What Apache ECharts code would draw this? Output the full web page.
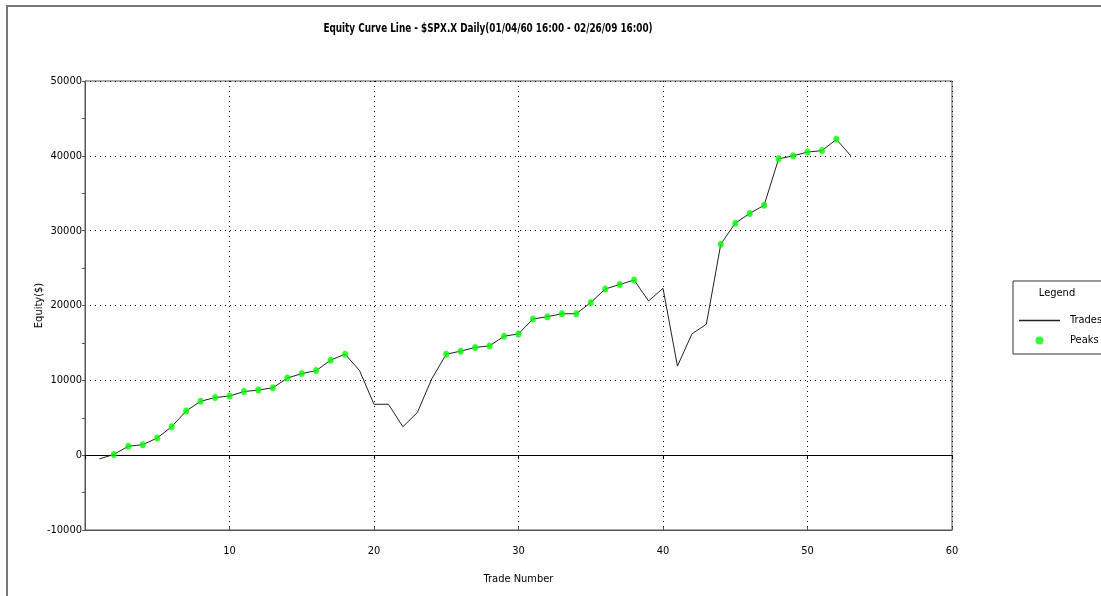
<!DOCTYPE html>
<html>
<head>
<meta charset="utf-8">
<script src="https://cdn.jsdelivr.net/npm/echarts@6/dist/echarts.min.js"></script>
<style>html,body{margin:0;padding:0;background:#fff;}#c{width:1101px;height:596px;}</style>
</head>
<body>
<div id="c"></div>
<script>
const titleText = 'Equity Curve Line - $SPX.X Daily(01/04/60 16:00 - 02/26/09 16:00)';
const tradeNumbers = [1,2,3,4,5,6,7,8,9,10,11,12,13,14,15,16,17,18,19,20,21,22,23,24,25,26,27,28,29,30,31,32,33,34,35,36,37,38,39,40,41,42,43,44,45,46,47,48,49,50,51,52,53];
const equity = [-500,100,1200,1400,2300,3800,5900,7200,7700,7900,8500,8700,9000,10300,10900,11300,12700,13500,11300,6800,6800,3800,5700,10200,13500,13900,14400,14600,15900,16200,18200,18500,18900,18900,20400,22200,22800,23400,20600,22300,11900,16200,17500,28200,31000,32300,33400,39600,40000,40500,40700,42200,40000];
const peakTrades = [2,3,4,5,6,7,8,9,10,11,12,13,14,15,16,17,18,25,26,27,28,29,30,31,32,33,34,35,36,37,38,44,45,46,47,48,49,50,51,52];
const xTicks = [0,10,20,30,40,50,60];
const yTicks = [-10000,0,10000,20000,30000,40000,50000];

const FONT = '"Liberation Sans Narrow","DejaVu Sans Condensed","Arial Narrow",sans-serif';
const tradeData = tradeNumbers.map((t,i)=>[t,equity[i]]);
const peakData = peakTrades.map(t=>[t,equity[tradeNumbers.indexOf(t)]]);

const chart = echarts.init(document.getElementById('c'), null, {renderer:'canvas'});
chart.setOption({
  animation:false,
  backgroundColor:'#ffffff',
  grid:{left:85,top:81,right:149,bottom:66,show:true,borderColor:'#555',borderWidth:1,backgroundColor:'transparent'},
  xAxis:[{
    type:'value',min:xTicks[0],max:xTicks[xTicks.length-1],interval:10,position:'bottom',
    name:'Trade Number',nameLocation:'middle',nameGap:44,nameMoveOverlap:false,
    nameTextStyle:{fontFamily:FONT,fontSize:11,color:'#000'},
    axisLine:{onZero:false,lineStyle:{color:'#555',width:1}},
    axisTick:{inside:true,length:3,lineStyle:{color:'#555'}},
    axisLabel:{margin:16,fontFamily:FONT,fontSize:11,color:'#000',formatter:v=>v===0?'':String(v)},
    splitLine:{show:true,lineStyle:{type:[1,4],color:'#000',width:1}}
  },{
    type:'value',min:xTicks[0],max:xTicks[xTicks.length-1],interval:10,position:'bottom',
    axisLine:{onZero:true,lineStyle:{color:'#000',width:1}},
    axisTick:{show:true,length:4,lineStyle:{color:'#000'}},
    axisLabel:{show:false},splitLine:{show:false}
  }],
  yAxis:{
    type:'value',min:yTicks[0],max:yTicks[yTicks.length-1],interval:10000,
    name:'Equity($)',nameLocation:'middle',nameGap:40,nameMoveOverlap:false,
    nameTextStyle:{fontFamily:FONT,fontSize:11,color:'#000'},
    axisLine:{show:true,onZero:false,lineStyle:{color:'#555',width:1}},
    axisTick:{show:true,length:3,lineStyle:{color:'#555'}},
    minorTick:{show:true,splitNumber:2,length:3,lineStyle:{color:'#555'}},
    axisLabel:{margin:3,fontFamily:FONT,fontSize:11,color:'#000',formatter:v=>String(v)},
    splitLine:{show:true,lineStyle:{type:[1,4],color:'#000',width:1}}
  },
  legend:{
    orient:'vertical',left:1014,top:310,itemWidth:41,itemHeight:8,itemGap:9,
    textStyle:{fontFamily:FONT,fontSize:11,color:'#000',padding:[0,0,0,5]},
    data:[{name:'Trades',icon:'path://M0,0H41V1.5H0Z'},{name:'Peaks',icon:'circle'}]
  },
  graphic:[
    {type:'rect',shape:{x:7,y:6,width:1200,height:700},style:{fill:'none',stroke:'#777',lineWidth:2},silent:true},
    {type:'rect',shape:{x:1013,y:281,width:200,height:73},style:{fill:'#fff',stroke:'#333',lineWidth:1},z:-1,silent:true},
    {type:'text',x:1057,y:293,style:{text:'Legend',fontFamily:FONT,fontSize:11,fill:'#000',align:'center',verticalAlign:'middle'}},
    {type:'text',x:488,y:29,scaleX:0.82,style:{text:titleText,fontFamily:FONT,fontSize:12,fontWeight:'bold',fill:'#000',align:'center',verticalAlign:'middle'}}
  ],
  series:[
    {name:'Trades',type:'line',xAxisIndex:0,data:tradeData,showSymbol:false,symbol:'none',lineStyle:{color:'#222',width:1},itemStyle:{color:'#222'},z:2},
    {name:'Peaks',type:'scatter',xAxisIndex:0,data:peakData,symbol:'circle',symbolSize:[6,7],itemStyle:{color:'#00ff00'},z:3}
  ]
});
</script>
</body>
</html>
